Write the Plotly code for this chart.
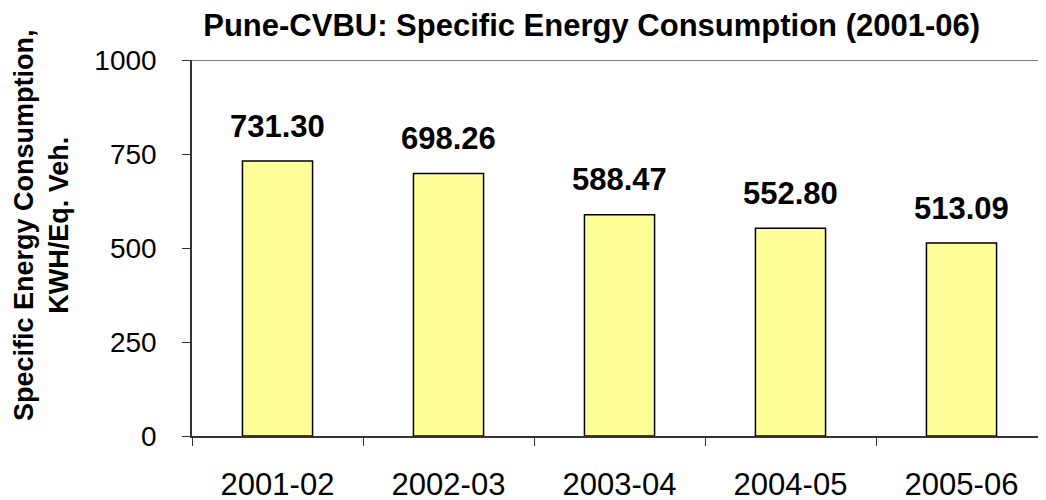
import plotly.graph_objects as go

categories = ["2001-02", "2002-03", "2003-04", "2004-05", "2005-06"]
values = [731.30, 698.26, 588.47, 552.80, 513.09]
labels = ["731.30", "698.26", "588.47", "552.80", "513.09"]
y_ticks = [0, 250, 500, 750, 1000]

FONT = "Arial, Liberation Sans, sans-serif"

fig = go.Figure()
fig.add_trace(go.Bar(
    x=categories, y=values, width=0.41,
    marker=dict(color="#FFFF99", line=dict(color="black", width=1.5)),
    hoverinfo="skip",
))
for c, v, t in zip(categories, values, labels):
    fig.add_annotation(x=c, y=v, text="<b>%s</b>" % t, showarrow=False,
                       yshift=35, font=dict(size=31, color="black", family=FONT))

# y-axis title as rotated annotation (positioned like the reference)
fig.add_annotation(xref="paper", yref="paper", x=-0.176, y=0.56,
                   xanchor="center", yanchor="middle", textangle=-90, showarrow=False,
                   text="<b>Specific Energy Consumption,<br>KWH/Eq. Veh.</b>",
                   font=dict(size=27, color="black", family=FONT))

fig.add_shape(type="line", xref="paper", yref="y", x0=0, x1=1, y0=1000, y1=1000,
              line=dict(color="#808080", width=2))

fig.update_layout(
    width=1046, height=500,
    margin=dict(l=184, r=7, t=52, b=72),
    paper_bgcolor="white", plot_bgcolor="white",
    showlegend=False,
    font=dict(family=FONT, color="black"),
    title=dict(text="<b>Pune-CVBU: Specific Energy Consumption (2001-06)</b>",
               x=0.558, xanchor="center", y=0.966, yanchor="middle",
               font=dict(size=31, color="black")),
    xaxis=dict(type="category", showline=True, linecolor="#333333", linewidth=1.5,
               ticks="outside", tickson="boundaries", ticklen=8, tickcolor="#333333",
               tickfont=dict(size=31), showgrid=False, zeroline=False,
               ticklabelstandoff=20, range=[-0.5, 4.5]),
    yaxis=dict(range=[0, 1000], tickvals=y_ticks, showline=True, linecolor="#333333",
               linewidth=1.5, ticks="outside", ticklen=8, tickcolor="#333333",
               tickfont=dict(size=28), showgrid=False, zeroline=False,
               ticklabelstandoff=20),
)

fig.write_html("out.html")
